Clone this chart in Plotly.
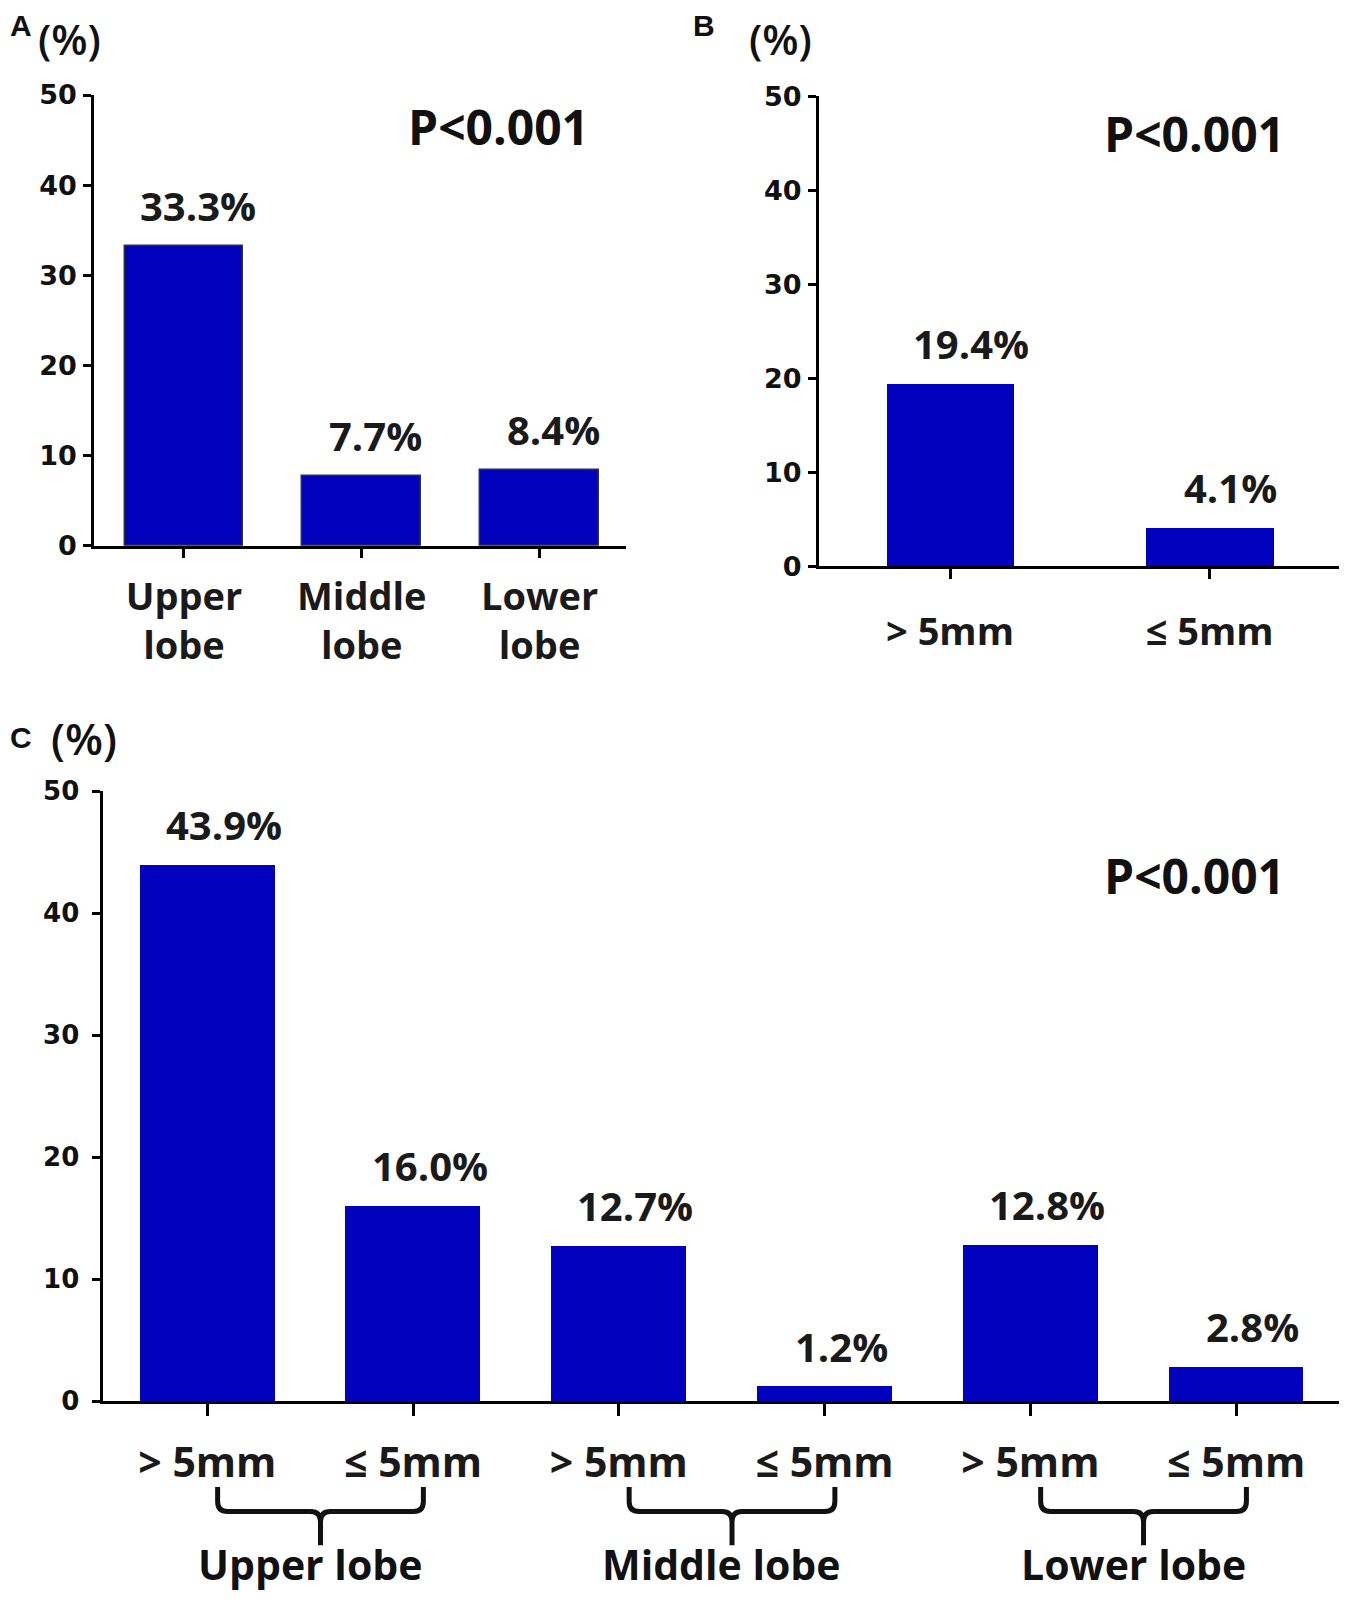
import plotly.graph_objects as go

# page keeps an 8px body margin, so the figure is a bit smaller than the window
W, H = 1331, 1586
OFF = 8
S = 1.022

# panel A: by lobe
lobe_labels = ["Upper<br>lobe", "Middle<br>lobe", "Lower<br>lobe"]
lobe_values = [33.3, 7.7, 8.4]

# panel B: by size
size_labels = ["> 5mm", "≤ 5mm"]
size_values = [19.4, 4.1]

# panel C: lobe x size
combo_labels = ["> 5mm", "≤ 5mm", "> 5mm", "≤ 5mm", "> 5mm", "≤ 5mm"]
combo_values = [43.9, 16.0, 12.7, 1.2, 12.8, 2.8]
group_labels = ["Upper lobe", "Middle lobe", "Lower lobe"]

y_ticks = [0, 10, 20, 30, 40, 50]

BLUE = "#0202BE"
CAL = "Open Sans, Lato, sans-serif"
ARI = "Liberation Sans, Arial, sans-serif"
TCK = "DejaVu Sans, sans-serif"
INK = "#1a1a1a"


def px_x(p):
    # window pixel -> paper fraction
    return min(1.0, max(0.0, (p * S - OFF) / W))


def px_y(p):
    return min(1.0, max(0.0, 1 - (p * S - OFF) / H))


fig = go.Figure()

panels = [
    # labels, values, axis suffix, bar width, outline
    (lobe_labels, lobe_values, "", 0.667, 1.5),
    (size_labels, size_values, "2", 0.49, 0),
    (combo_labels, combo_values, "3", 0.655, 0),
]

for labels, values, s, bw, lw in panels:
    pos = list(range(len(values)))
    fig.add_trace(go.Bar(
        x=pos, y=values, width=bw,
        marker=dict(color=BLUE, line=dict(color="#333", width=lw)),
        xaxis="x" + s, yaxis="y" + s,
        showlegend=False, hoverinfo="skip",
    ))
    for p, v in zip(pos, values):
        fig.add_annotation(
            x=p + 0.08, y=v, xref="x" + s, yref="y" + s,
            text=f"{v:.1f}%", showarrow=False, yanchor="bottom", yshift=11,
            font=dict(family=CAL, size=40, color=INK, weight="bold"),
        )

axis_common = dict(
    showline=True, linecolor="black", linewidth=2.5,
    ticks="outside", tickcolor="black", tickwidth=2.5,
    showgrid=False, zeroline=False, fixedrange=True, automargin=False,
)

# domains in paper coords from pixel layout
fig.update_layout(
    width=W, height=H,
    margin=dict(l=0, r=0, t=0, b=0, autoexpand=False),
    plot_bgcolor="white", paper_bgcolor="white",
    bargap=0,
    xaxis=dict(axis_common, domain=[px_x(92), px_x(613)], range=[-0.506, 2.489],
               anchor="y", tickvals=[0, 1, 2], ticktext=lobe_labels, ticklen=10,
               ticklabelstandoff=6,
               tickfont=dict(family=CAL, size=38, color=INK, weight="bold")),
    yaxis=dict(axis_common, domain=[px_y(534), px_y(93)], range=[0, 50],
               anchor="x", tickvals=y_ticks, ticklen=8, ticklabelstandoff=1,
               tickfont=dict(family=TCK, size=27, color="#111", weight="bold")),
    xaxis2=dict(axis_common, domain=[px_x(801), px_x(1312)], range=[-0.506, 1.498],
                anchor="y2", tickvals=[0, 1], ticktext=size_labels, ticklen=10,
                ticklabelstandoff=20,
                tickfont=dict(family=CAL, size=38, color=INK, weight="bold")),
    yaxis2=dict(axis_common, domain=[px_y(554), px_y(94)], range=[0, 50],
                anchor="x2", tickvals=y_ticks, ticklen=8, ticklabelstandoff=1,
                tickfont=dict(family=TCK, size=27, color="#111", weight="bold")),
    xaxis3=dict(axis_common, domain=[px_x(101), px_x(1313)], range=[-0.506, 5.5],
                anchor="y3", tickvals=list(range(6)), ticktext=combo_labels, ticklen=12,
                ticklabelstandoff=12,
                tickfont=dict(family=CAL, size=41, color=INK, weight="bold")),
    yaxis3=dict(axis_common, domain=[px_y(1371), px_y(774)], range=[0, 50],
                anchor="x3", tickvals=y_ticks, ticklen=8, ticklabelstandoff=8,
                tickfont=dict(family=TCK, size=26, color="#111", weight="bold")),
)

# panel letters, units, p-values  (text, x px, y px, font, size, weight, x anchor, y anchor)
texts = [
    ("A", 8, 25, ARI, 30, "bold", "left", "middle"),
    ("B", 676, 25, ARI, 30, "bold", "left", "middle"),
    ("C", 8, 722, ARI, 30, "bold", "left", "middle"),
    ("(%)", 68, 0, CAL, 42, 600, "center", "top"),
    ("(%)", 764, 0, CAL, 42, 600, "center", "top"),
    ("(%)", 82, 722, CAL, 44, 600, "center", "middle"),
    ("P<0.001", 488, 124, CAL, 48, "bold", "center", "middle"),
    ("P<0.001", 1169, 131, CAL, 48, "bold", "center", "middle"),
    ("P<0.001", 1169, 857, CAL, 48, "bold", "center", "middle"),
]
for t, x, y, fam, size, wt, xa, ya in texts:
    fig.add_annotation(
        x=px_x(x), y=px_y(y), xref="paper", yref="paper", text=t,
        showarrow=False, xanchor=xa, yanchor=ya,
        font=dict(family=fam, size=size, color="#111", weight=wt),
    )

# braces grouping the size bars in panel C
yt, yh, yb = px_y(1455), px_y(1479), px_y(1512)
ry = 10 / H
rx = 10 / 206
for i, g in enumerate(group_labels):
    x0 = 2 * i + 0.05
    x1 = 2 * i + 1.05
    xm = (x0 + x1) / 2
    path = (
        f"M {x0},{yt} L {x0},{yh + ry} Q {x0},{yh} {x0 + rx},{yh} "
        f"L {xm - rx},{yh} Q {xm},{yh} {xm},{yh - ry} L {xm},{yb} "
        f"M {xm},{yh - ry} Q {xm},{yh} {xm + rx},{yh} "
        f"L {x1 - rx},{yh} Q {x1},{yh} {x1},{yh + ry} L {x1},{yt}"
    )
    fig.add_shape(type="path", path=path, xref="x3", yref="paper",
                  line=dict(color="#111", width=5))
    # group label sits on the bottom edge of the figure
    fig.add_annotation(
        x=2 * i + 0.5, y=0, xref="x3", yref="paper", text=g,
        showarrow=False, xanchor="center", yanchor="bottom",
        font=dict(family=CAL, size=41, color="#111", weight="bold"),
    )

fig.write_html("out.html")
